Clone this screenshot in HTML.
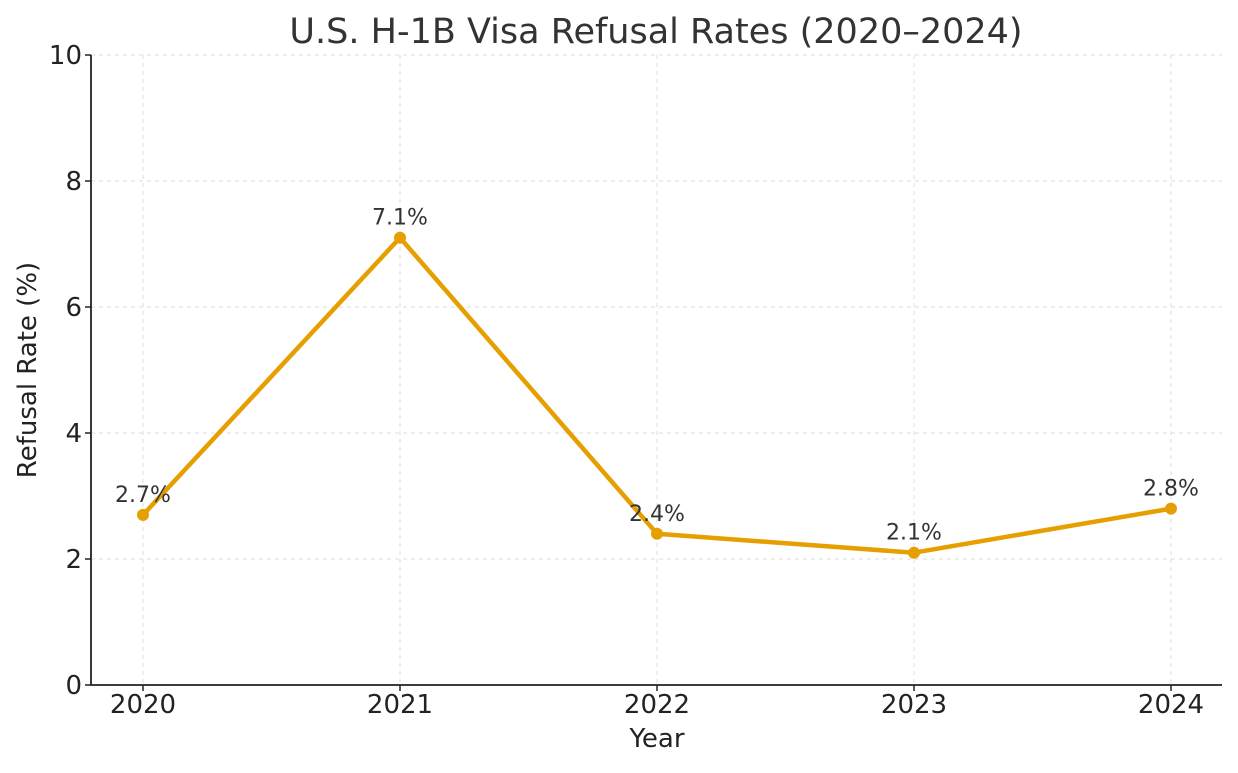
<!DOCTYPE html>
<html><head><meta charset="utf-8"><style>
body{margin:0;background:#fff;}
svg text{font-family:"DejaVu Sans","Liberation Sans",sans-serif;}
</style></head><body>
<svg id="chart" width="1238" height="768">
<text x="656" y="43" text-anchor="middle" font-size="35" fill="#333">U.S. H-1B Visa Refusal Rates (2020–2024)</text>
<g id="grid"></g>
<g id="axes"></g>
<g id="marks"></g>
<text x="657" y="747" text-anchor="middle" font-size="26" fill="#222">Year</text>
<text transform="translate(36,370) rotate(-90)" text-anchor="middle" font-size="26" fill="#222">Refusal Rate (%)</text>
</svg>
<script>
const years = ["2020","2021","2022","2023","2024"];
const rates = [2.7, 7.1, 2.4, 2.1, 2.8];
const valueLabels = ["2.7%","7.1%","2.4%","2.1%","2.8%"];
const yTicks = [0,2,4,6,8,10];
const NS="http://www.w3.org/2000/svg";
const L=91,R=1222,T=55,B=685;
const x=i=>143+i*257;
const y=v=>B-(v/10)*(B-T);
function mk(tag,at,parent){const e=document.createElementNS(NS,tag);for(const k in at)e.setAttribute(k,at[k]);document.getElementById(parent).appendChild(e);return e;}
yTicks.forEach(t=>{
 if(t>0){const g=mk('line',{x1:L,x2:R,y1:y(t),y2:y(t),stroke:'#dedede','stroke-dasharray':'4,4'},'grid');
 
 }
 const tk=mk('line',{x1:L-6,x2:L,y1:y(t),y2:y(t),stroke:'#222','stroke-width':1.5},'axes');
 
 
 const tx=mk('text',{x:L-9,y:y(t)+9,'text-anchor':'end','font-size':26,fill:'#222'},'axes');
 tx.textContent=t;
 
 
});
years.forEach((yr,i)=>{
 const g=mk('line',{x1:x(i),x2:x(i),y1:T,y2:B,stroke:'#dedede','stroke-dasharray':'4,4'},'grid');
 
 
 const tk=mk('line',{x1:x(i),x2:x(i),y1:B,y2:B+6,stroke:'#222','stroke-width':1.5},'axes');
 
 
 const tx=mk('text',{x:x(i),y:B+28,'text-anchor':'middle','font-size':26,fill:'#222'},'axes');
 tx.textContent=yr;
 
 
});
const ax=mk('path',{d:`M${L},${T}V${B}H${R}`,fill:'none',stroke:'#222','stroke-width':1.8},'axes');


const line=mk('polyline',{points:rates.map((v,i)=>x(i)+','+y(v)).join(' '),fill:'none',stroke:'#E69F00','stroke-width':4.5,'stroke-linejoin':'round'},'marks');


rates.forEach((v,i)=>{
 const c=mk('circle',{cx:x(i),cy:y(v),r:6,fill:'#E69F00'},'marks');
 
 
 const t=mk('text',{x:x(i),y:y(v)-13,'text-anchor':'middle','font-size':22,fill:'#333'},'marks');
 t.textContent=valueLabels[i];
 
 
});
</script>
</body></html>
